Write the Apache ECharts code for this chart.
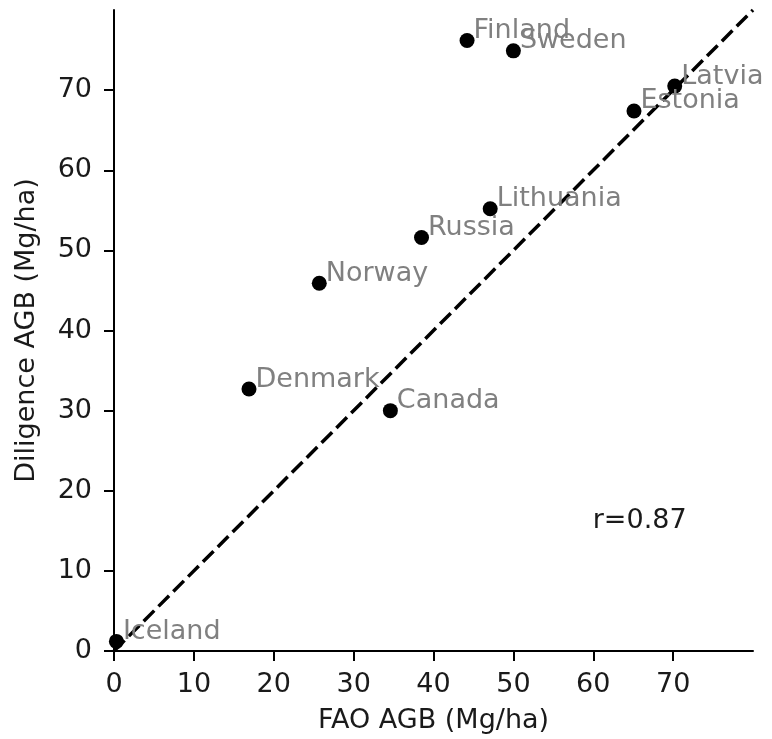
<!DOCTYPE html>
<html>
<head>
<meta charset="utf-8">
<script src="https://cdn.jsdelivr.net/npm/echarts@6/dist/echarts.min.js"></script>
<style>html,body{margin:0;padding:0;background:#fff}#c{width:772px;height:739px}</style>
</head>
<body>
<div id="c"></div>
<script>
const countries = ['Iceland','Denmark','Canada','Norway','Russia','Lithuania','Finland','Sweden','Estonia','Latvia'];
const faoAGB = [0.3, 16.9, 34.6, 25.7, 38.5, 47.1, 44.2, 50.0, 65.1, 70.2];
const diligenceAGB = [1.2, 32.7, 30.0, 45.9, 51.6, 55.2, 76.2, 74.9, 67.4, 70.5];
const tickValues = [0, 10, 20, 30, 40, 50, 60, 70];
const diagLine = [0, 80];
const corrText = 'r=0.87';
const corrPos = [60, 15];
const xTitle = 'FAO AGB (Mg/ha)';
const yTitle = 'Diligence AGB (Mg/ha)';

const FONT = 'DejaVu Sans';
const FS = 27;
const chart = echarts.init(document.getElementById('c'), null, {renderer: 'canvas'});

function axis(name, gap) {
  return {
    type: 'value', min: 0, max: 80, interval: 10,
    name: name, nameLocation: 'middle', nameGap: gap,
    nameTextStyle: {fontFamily: FONT, fontSize: FS, color: '#1a1a1a'},
    axisLine: {show: true, onZero: false, lineStyle: {color: '#000', width: 2}},
    axisTick: {show: true, customValues: tickValues, length: 10, lineStyle: {color: '#000', width: 2}},
    axisLabel: {customValues: tickValues, fontFamily: FONT, fontSize: FS, color: '#1a1a1a', margin: 20},
    splitLine: {show: false}
  };
}

const xa = axis(xTitle, 56);
const ya = axis(yTitle, 74);
ya.axisLabel.margin = 22;

chart.setOption({
  animation: false,
  backgroundColor: '#fff',
  grid: {left: 114, right: 19, top: 10, bottom: 88, containLabel: false},
  xAxis: xa,
  yAxis: ya,
  series: [
    {
      type: 'line',
      data: [[diagLine[0], diagLine[0]], [diagLine[1], diagLine[1]]],
      symbol: 'none',
      lineStyle: {color: '#000', width: 3.5, type: [15, 6]},
      z: 1,
      silent: true
    },
    {
      type: 'scatter',
      data: countries.map((c, i) => ({name: c, value: [faoAGB[i], diligenceAGB[i]]})),
      symbolSize: 15,
      itemStyle: {color: '#000', opacity: 1},
      z: 3,
      label: {
        show: true,
        formatter: p => p.name,
        position: [14, -2],
        align: 'left',
        verticalAlign: 'middle',
        fontFamily: FONT, fontSize: FS, color: '#808080'
      }
    },
    {
      type: 'scatter',
      data: [{name: corrText, value: corrPos}],
      symbolSize: 1,
      itemStyle: {color: 'rgba(0,0,0,0)', opacity: 1},
      label: {
        show: true, formatter: p => p.name,
        position: [0, -9], align: 'left', verticalAlign: 'middle',
        fontFamily: FONT, fontSize: FS, color: '#1a1a1a'
      }
    }
  ]
});
</script>
</body>
</html>
